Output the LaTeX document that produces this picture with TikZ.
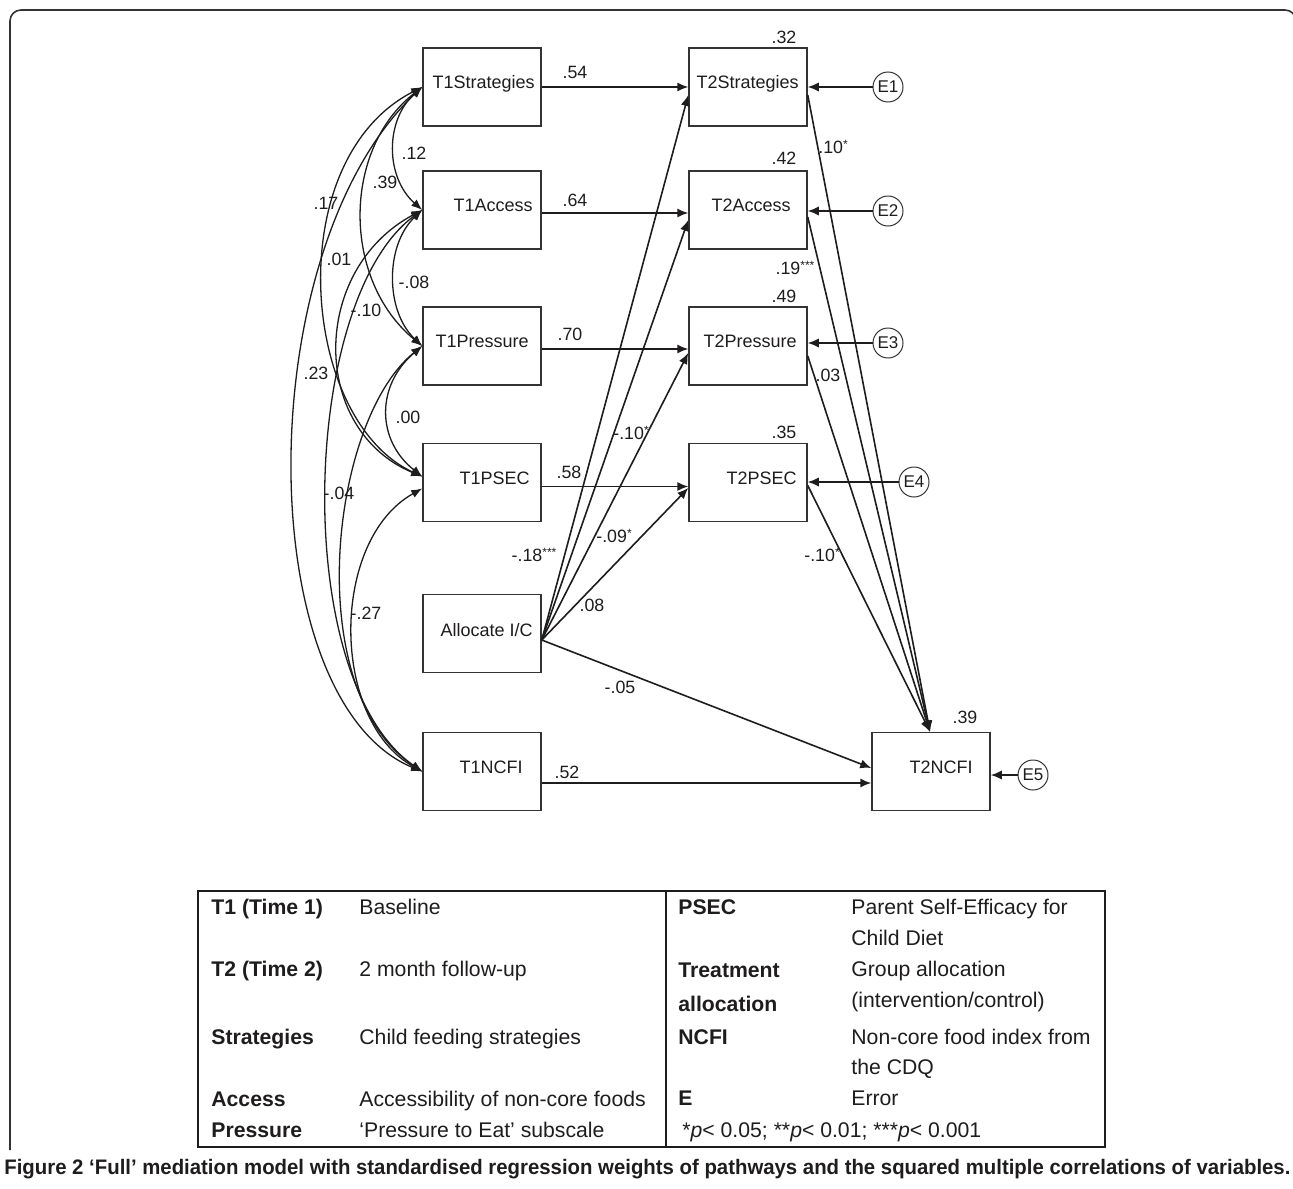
\documentclass[tikz,border=0pt]{standalone}
\usepackage{fontspec}
\setmainfont{Liberation Sans}
\usepackage{graphicx}
\usetikzlibrary{arrows.meta,calc}
\definecolor{ink}{HTML}{1E1C1D}
\definecolor{boxc}{HTML}{333333}
\newcommand{\sig}[1]{\raisebox{0.5ex}{\fontsize{6}{6}\selectfont #1}}
\begin{document}
\begin{tikzpicture}[x=0.5pt,y=-0.5pt,
  box/.style={draw=boxc,line width=0.75pt,minimum width=59pt,minimum height=39pt,inner sep=0pt},
  btxt/.style={text=ink,font=\fontsize{9}{10}\selectfont,inner sep=0pt,text height=6.45pt,text depth=0pt,anchor=east},
  num/.style={text=ink,font=\fontsize{8.9}{10}\selectfont,inner sep=0pt,text height=6.3pt,text depth=0pt},
  err/.style={draw=boxc,circle,line width=0.5pt,minimum size=15pt,inner sep=0pt,text=ink,font=\fontsize{8.5}{10}\selectfont},
  arr/.style={draw=ink,line width=0.8pt,->,>={Latex[length=5.5pt,width=4.6pt]}},
  cov/.style={draw=ink,line width=0.65pt,<->,>={Latex[length=5.5pt,width=4.2pt]}},
  tb/.style={text=ink,font=\fontsize{10.6}{12}\selectfont,inner sep=0pt,text height=7.6pt,text depth=0pt,anchor=west},
]
\path[use as bounding box] (0,0) rectangle (1293,1188);
\draw[boxc,line width=0.8pt,rounded corners=5.5pt] (10,1150) -- (10,10) -- (1296,10) -- (1296,1150);

% T1 boxes
\node[box] (t1s) at (482,87) {};
\node[box] (t1a) at (482,210) {};
\node[box] (t1p) at (482,346) {};
\node[box] (t1e) at (482,482.5) {};
\node[box] (alc) at (482,633.5) {};
\node[box] (t1n) at (482,771.5) {};
% T2 boxes
\node[box] (t2s) at (748,87) {};
\node[box] (t2a) at (748,210) {};
\node[box] (t2p) at (748,346) {};
\node[box] (t2e) at (748,482.5) {};
\node[box] (t2n) at (931,771.5) {};

% box texts
\node[btxt] (l1s) at (535,82) {T1Strategies};
\node[btxt] (l1a) at (533,205) {T1Access};
\node[btxt] (l1p) at (529,341) {T1Pressure};
\node[btxt] (l1e) at (530,478) {T1PSEC};
\node[btxt] (lal) at (533,630) {Allocate I/C};
\node[btxt] (l1n) at (523,767) {T1NCFI};
\node[btxt] (l2s) at (799,82) {T2Strategies};
\node[btxt] (l2a) at (791,205) {T2Access};
\node[btxt] (l2p) at (797,341) {T2Pressure};
\node[btxt] (l2e) at (797,478) {T2PSEC};
\node[btxt] (l2n) at (973,767) {T2NCFI};

% squared multiple correlations
\node[num] (r1) at (784,37) {.32};
\node[num] (r2) at (784,158) {.42};
\node[num] (r3) at (784,296) {.49};
\node[num] (r4) at (784,432) {.35};
\node[num] (r5) at (965,717) {.39};

% error terms
\node[err] (e1) at (888,87) {E1};
\node[err] (e2) at (888,211) {E2};
\node[err] (e3) at (888,343) {E3};
\node[err] (e4) at (914,482) {E4};
\node[err] (e5) at (1033,775) {E5};
\draw[arr] (e1) -- (t2s.east |- e1);
\draw[arr] (e2) -- (t2a.east |- e2);
\draw[arr] (e3) -- (t2p.east |- e3);
\draw[arr] (e4) -- (t2e.east |- e4);
\draw[arr] (e5) -- (t2n.east |- e5);

% stability paths
\draw[arr] (t1s.east) -- (t2s.west);
\draw[arr] ($(t1a.east)+(0,3)$) -- ($(t2a.west)+(0,3)$);
\draw[arr] ($(t1p.east)+(0,3)$) -- ($(t2p.west)+(0,3)$);
\draw[arr] ($(t1e.east)+(0,4)$) -- ($(t2e.west)+(0,4)$);
\draw[arr] ($(t1n.east)+(0,11.5)$) -- ($(t2n.west)+(0,11.5)$);
\node[num] (w1) at (575,72) {.54};
\node[num] (w2) at (575,200) {.64};
\node[num] (w3) at (570,334) {.70};
\node[num] (w4) at (569,472) {.58};
\node[num] (w5) at (567,772) {.52};

% allocation paths
\coordinate (ao) at ($(alc.east)+(0,6.5)$);
\draw[arr] (ao) -- ($(t2s.west)+(0,8)$);
\draw[arr] (ao) -- ($(t2a.west)+(0,10)$);
\draw[arr] (ao) -- ($(t2p.west)+(0,7)$);
\draw[arr] (ao) -- ($(t2e.west)+(0,5.5)$);
\draw[arr] (ao) -- ($(t2n.west)+(0,-3.5)$);
\node[num] (a1) at (534,555) {-.18\sig{***}};
\node[num] (a2) at (631,433) {-.10\sig{*}};
\node[num] (a3) at (614,536) {-.09\sig{*}};
\node[num] (a4) at (592,605) {.08};
\node[num] (a5) at (620,687) {-.05};

% paths to T2NCFI
\coordinate (nt) at ($(t2n.north)+(-1,0)$);
\draw[arr] ($(t2s.east)+(0,8)$) -- (nt);
\draw[arr] ($(t2a.east)+(0,7)$) -- (nt);
\draw[arr] ($(t2p.east)+(0,10)$) -- (nt);
\draw[arr] ($(t2e.east)+(0,3)$) -- (nt);
\node[num] (b1) at (833,147) {.10\sig{*}};
\node[num] (b2) at (795,268) {.19\sig{***}};
\node[num] (b3) at (828,375) {.03};
\node[num] (b4) at (822,555) {-.10\sig{*}};

% covariances
\coordinate (eu) at ($(t1e.west)+(0,-6)$);
\coordinate (el) at ($(t1e.west)+(0,6)$);
\draw[cov] (t1s.west) .. controls (385,120) and (385,177) .. (t1a.west);
\draw[cov] (t1a.west) .. controls (385,245) and (385,311) .. (t1p.west);
\draw[cov] (t1p.west) .. controls (376,385) and (376,440) .. (eu);
\draw[cov] (t1s.west) .. controls (342,150) and (342,280) .. (t1p.west);
\draw[cov] (t1s.west) .. controls (280,160) and (300,420) .. (eu);
\draw[cov] (t1a.west) .. controls (310,270) and (310,430) .. (eu);
\draw[cov] (t1s.west) .. controls (250,250) and (250,700) .. (t1n.west);
\draw[cov] (t1a.west) .. controls (300,300) and (290,680) .. (t1n.west);
\draw[cov] (t1p.west) .. controls (330,420) and (300,690) .. (t1n.west);
\draw[cov] (el) .. controls (330,540) and (330,720) .. (t1n.west);
\node[num] (c1) at (414,153) {.12};
\node[num] (c2) at (414,282) {-.08};
\node[num] (c3) at (408,417) {.00};
\node[num] (c4) at (385,182) {.39};
\node[num] (c5) at (339,259) {.01};
\node[num] (c6) at (366,310) {-.10};
\node[num] (c7) at (326,203) {.17};
\node[num] (c8) at (316,373) {.23};
\node[num] (c9) at (339,493) {-.04};
\node[num] (c10) at (366,613) {-.27};

% legend table
\draw[draw=ink,line width=0.9pt] (198,891) rectangle (1105,1147);
\draw[draw=ink,line width=0.9pt] (666,891) -- (666,1147);
\node[tb] (k1) at (211,907) {\bfseries T1 (Time 1)};
\node[tb] (v1) at (359,907) {Baseline};
\node[tb] (k2) at (211,969) {\bfseries T2 (Time 2)};
\node[tb] (v2) at (359,969) {2 month follow-up};
\node[tb] (k3) at (211,1037) {\bfseries Strategies};
\node[tb] (v3) at (359,1037) {Child feeding strategies};
\node[tb] (k4) at (211,1099) {\bfseries Access};
\node[tb] (v4) at (359,1099) {Accessibility of non-core foods};
\node[tb] (k5) at (211,1130) {\bfseries Pressure};
\node[tb] (v5) at (359,1130) {‘Pressure to Eat’ subscale};
\node[tb] (k6) at (678,907) {\bfseries PSEC};
\node[tb] (v6) at (851,907) {Parent Self-Efficacy for};
\node[tb] (v6b) at (851,938) {Child Diet};
\node[tb] (k7) at (678,970) {\bfseries Treatment};
\node[tb] (k7b) at (678,1004) {\bfseries allocation};
\node[tb] (v7) at (851,969) {Group allocation};
\node[tb] (v7b) at (851,1000) {(intervention/control)};
\node[tb] (k8) at (678,1037) {\bfseries NCFI};
\node[tb] (v8) at (851,1037) {Non-core food index from};
\node[tb] (v8b) at (851,1067) {the CDQ};
\node[tb] (k9) at (678,1098) {\bfseries E};
\node[tb] (v9) at (851,1098) {Error};
\node[tb] (pv) at (682,1130) {*\textit{p}< 0.05; **\textit{p}< 0.01; ***\textit{p}< 0.001};

% caption
\node[anchor=west,inner sep=0pt,text=ink,font=\fontsize{10.5}{12}\selectfont] (cap) at (4,1169)
  {\resizebox{643pt}{\height}{\bfseries Figure 2 ‘Full’ mediation model with standardised regression weights of pathways and the squared multiple correlations of variables.}};
\end{tikzpicture}
\end{document}
